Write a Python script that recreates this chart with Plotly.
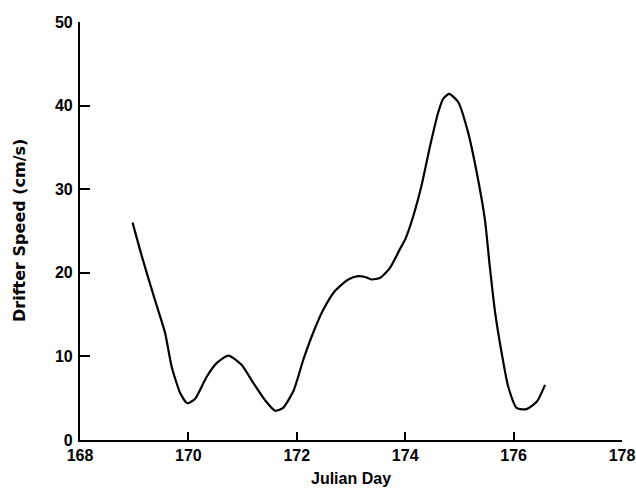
import plotly.graph_objects as go

# Drifter speed time series (Julian day vs cm/s)
julian_day = [
    168.97, 169.14, 169.38, 169.57, 169.69, 169.85, 169.98, 170.12, 170.34, 170.52,
    170.74, 170.98, 171.20, 171.41, 171.60, 171.74, 171.94, 172.12, 172.30, 172.49,
    172.70, 172.95, 173.13, 173.26, 173.38, 173.54, 173.72, 173.90, 174.00, 174.15,
    174.30, 174.46, 174.61, 174.70, 174.81, 174.98, 175.16, 175.32, 175.47, 175.56,
    175.66, 175.78, 175.90, 176.06, 176.24, 176.43, 176.58,
]
speed = [
    26.0, 22.0, 16.8, 12.8, 8.8, 5.6, 4.4, 4.9, 7.6, 9.2,
    10.1, 9.0, 6.8, 4.8, 3.5, 3.8, 5.9, 9.6, 12.8, 15.6,
    17.8, 19.2, 19.6, 19.5, 19.2, 19.4, 20.6, 22.8, 24.0, 26.8,
    30.4, 35.2, 39.2, 40.8, 41.4, 40.4, 36.8, 32.0, 26.4, 20.8,
    15.2, 10.4, 6.4, 3.8, 3.7, 4.6, 6.6,
]

x_ticks = [168, 170, 172, 174, 176, 178]
y_ticks = [0, 10, 20, 30, 40, 50]

font_family = "Liberation Sans, Arial, sans-serif"
wide_family = "DejaVu Sans, Verdana, sans-serif"

fig = go.Figure(
    go.Scatter(
        x=julian_day,
        y=speed,
        mode="lines",
        line=dict(color="black", width=2.2, shape="spline", smoothing=0.6),
        hoverinfo="skip",
    )
)

axis_common = dict(
    showgrid=False,
    zeroline=False,
    showline=True,
    linecolor="black",
    linewidth=2.2,
    ticks="inside",
    tickcolor="black",
    tickwidth=2,
    automargin=False,
    tickfont=dict(family=font_family, size=16, color="black", weight="bold"),
)

fig.update_xaxes(
    range=[168, 178],
    tickvals=x_ticks,
    ticktext=[str(v) for v in x_ticks],
    ticklen=8,
    **axis_common,
)
fig.update_yaxes(
    range=[0, 50],
    tickvals=y_ticks,
    ticktext=[str(v) for v in y_ticks],
    ticklen=10,
    ticklabelstandoff=2,
    **axis_common,
)

fig.add_annotation(
    text="Julian Day",
    xref="paper", yref="paper", x=0.5, y=0,
    xanchor="center", yanchor="middle", yshift=-38,
    showarrow=False,
    font=dict(family=font_family, size=16, color="black", weight="bold"),
)
fig.add_annotation(
    text="Drifter Speed (cm/s)",
    xref="paper", yref="paper", x=0, y=0.5,
    xanchor="center", yanchor="middle", xshift=-61,
    textangle=-90,
    showarrow=False,
    font=dict(family=wide_family, size=16, color="black", weight="bold"),
)

fig.update_layout(
    width=636,
    height=490,
    margin=dict(l=80, r=14, t=22, b=50),
    paper_bgcolor="white",
    plot_bgcolor="white",
    showlegend=False,
)

fig.write_html("out.html")
